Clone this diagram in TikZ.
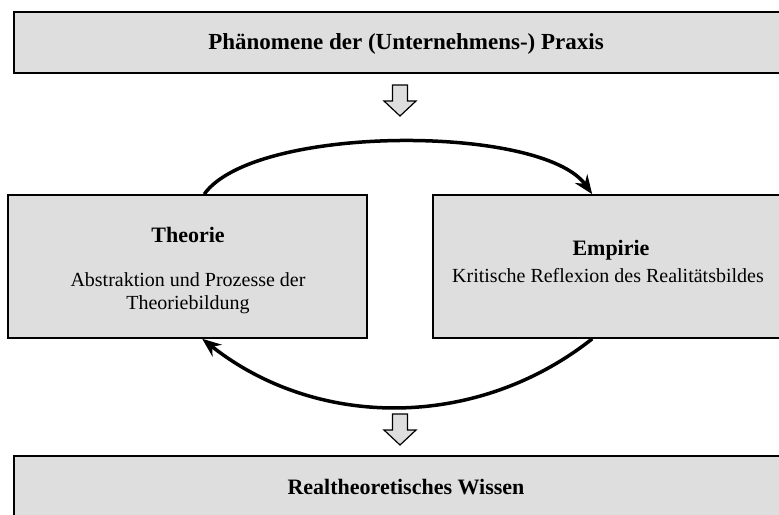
\documentclass[tikz,border=0pt]{standalone}
\usepackage{fontspec}
\setmainfont{Liberation Serif}
\usetikzlibrary{arrows.meta,calc}
\definecolor{boxfill}{RGB}{222,222,222}
\begin{document}
\begin{tikzpicture}[x=1pt,y=-1pt,
  panel/.style={draw=black,line width=1.6pt,fill=boxfill,inner sep=0pt},
  headtext/.style={anchor=base,inner sep=0pt,font=\fontsize{22}{26}\selectfont\bfseries},
  bodytext/.style={anchor=base,inner sep=0pt,font=\fontsize{20}{23}\selectfont},
  cyclearrow/.style={line width=3.5pt,-{Stealth[length=19pt,width=15pt]}},
  hollowdown/.pic={
    \path[draw=black,line width=1.2pt,fill=boxfill,line join=miter]
      (-7.5,0) -- (7.5,0) -- (7.5,16) -- (16,16) -- (0,31)
      -- (-16,16) -- (-7.5,16) -- cycle;}
]
\useasboundingbox (0,0) rectangle (779,514);
\clip (0,0) rectangle (779,514);

% panels
\node[panel,minimum width=784pt,minimum height=61pt] (praxis) at (406,42.5) {};
\node[panel,minimum width=359pt,minimum height=143pt] (theorie) at (187.5,266.5) {};
\node[panel,minimum width=357pt,minimum height=143pt] (empirie) at (611.5,266.5) {};
\node[panel,minimum width=784pt,minimum height=70pt] (wissen) at (406,491) {};

% texts
\node[headtext,font=\fontsize{23}{27}\selectfont\bfseries] (praxislbl) at (406,49) {Phänomene der (Unternehmens-) Praxis};
\node[headtext] (theorielbl) at (188,242) {Theorie};
\node[bodytext] (theoriel1) at (188,286) {Abstraktion und Prozesse der};
\node[bodytext] (theoriel2) at (188,309) {Theoriebildung};
\node[headtext] (empirielbl) at (611,255) {Empirie};
\node[bodytext] (empiriel1) at (608,282) {Kritische Reflexion des Realitätsbildes};
\node[headtext] (wissenlbl) at (406,494) {Realtheoretisches Wissen};

% hollow block arrows
\pic at (400,85) {hollowdown};
\pic at (400,414) {hollowdown};

% cycle between theory and empirics
\coordinate (t1) at ($(theorie.north west)+(197,0)$);
\coordinate (e1) at ($(empirie.north west)+(160,0)$);
\coordinate (e2) at ($(empirie.south west)+(160,0)$);
\coordinate (t2) at ($(theorie.south west)+(195,0)$);
\draw[cyclearrow] (t1) .. controls ($(t1)+(50,-70)$) and ($(e1)+(-50,-70)$) .. (e1);
\draw[cyclearrow] (e2) .. controls ($(e2)+(-115,91)$) and ($(t2)+(115,91)$) .. (t2);
\end{tikzpicture}
\end{document}
